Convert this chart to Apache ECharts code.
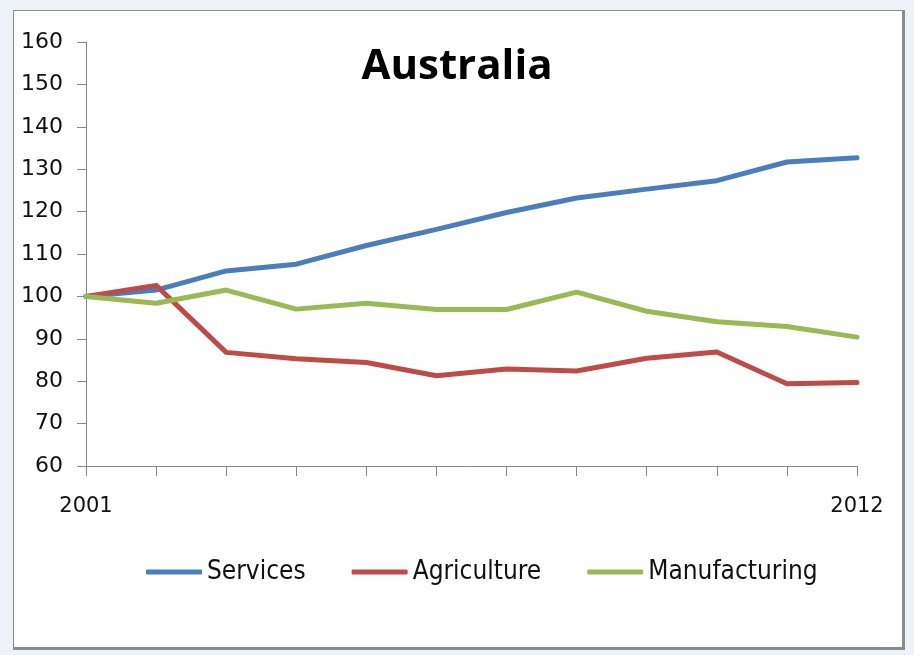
<!DOCTYPE html>
<html>
<head>
<meta charset="utf-8">
<script src="https://cdn.jsdelivr.net/npm/echarts@6/dist/echarts.min.js"></script>
<style>
    html, body { margin: 0; padding: 0; background: #eef2f9; }
    #panel {
        position: absolute; left: 13px; top: 10px; width: 888px; height: 636px;
        background: #fff; border: 1px solid #8c8c8c; border-right-width: 3px; border-bottom-width: 3px;
    }
    #chartDiv { position: absolute; left: 0; top: 0; width: 914px; height: 655px; }
</style>
</head>
<body>
<div id="panel"></div>
<div id="chartDiv"></div>
<script>
var years = ['2001','2002','2003','2004','2005','2006','2007','2008','2009','2010','2011','2012'];
var services = [100, 101.5, 106, 107.6, 112, 115.8, 119.8, 123.2, 125.3, 127.3, 131.7, 132.7];
var agriculture = [100, 102.6, 86.8, 85.3, 84.4, 81.3, 82.9, 82.4, 85.4, 86.9, 79.4, 79.7];
var manufacturing = [100, 98.4, 101.5, 97, 98.4, 96.9, 96.9, 101, 96.5, 94, 92.9, 90.4];

var colorList = ['#4a7ebb', '#be4b48', '#98b954'];

function makeSeries(name, data, color) {
    return {
        name: name,
        type: 'line',
        data: data,
        symbol: 'none',
        color: color,
        lineStyle: { width: 5, color: color, cap: 'round', join: 'round' }
    };
}

var option = {
    animation: false,
    title: {
        text: 'Australia',
        left: 'center',
        top: 41,
        textStyle: { fontFamily: 'Open Sans', fontWeight: 'bold', fontSize: 42, color: '#000' }
    },
    legend: {
        top: 554,
        left: 141,
        itemWidth: 56,
        itemHeight: 5,
        itemGap: 46,
        icon: 'roundRect',
        textStyle: { fontFamily: 'DejaVu Sans Condensed', fontSize: 26, color: '#111', padding: [0, 0, 0, 0] },
        data: ['Services', 'Agriculture', 'Manufacturing']
    },
    grid: { left: 86, right: 57, top: 42, bottom: 189 },
    xAxis: {
        type: 'category',
        boundaryGap: false,
        data: years,
        axisLine: { lineStyle: { color: '#888', width: 1 } },
        axisTick: { show: true, interval: 0, length: 10, lineStyle: { color: '#888' } },
        axisLabel: {
            interval: 0,
            margin: 30,
            fontFamily: 'DejaVu Sans',
            fontSize: 21,
            color: '#111',
            formatter: function (v, i) {
                return (i === 0 || i === years.length - 1) ? v : '';
            }
        },
        splitLine: { show: false }
    },
    yAxis: {
        type: 'value',
        min: 60,
        max: 160,
        interval: 10,
        axisLine: { show: true, lineStyle: { color: '#888', width: 1 } },
        axisTick: { show: true, length: 9, lineStyle: { color: '#888' } },
        axisLabel: { margin: 23, fontFamily: 'DejaVu Sans', fontSize: 22, color: '#111' },
        splitLine: { show: false }
    },
    series: [
        makeSeries('Services', services, colorList[0]),
        makeSeries('Agriculture', agriculture, colorList[1]),
        makeSeries('Manufacturing', manufacturing, colorList[2])
    ]
};

var chart = echarts.init(document.getElementById('chartDiv'));
chart.setOption(option);
</script>
</body>
</html>
